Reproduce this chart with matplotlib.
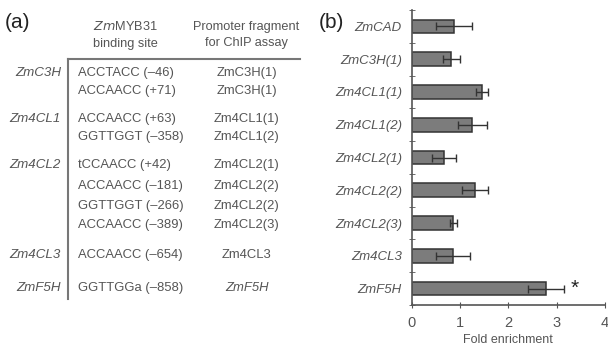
import matplotlib
matplotlib.use("Agg")
import matplotlib.pyplot as plt
from matplotlib.lines import Line2D

# ---------------- data ----------------
# panel (a) table
table_genes = ["ZmC3H", "", "Zm4CL1", "", "Zm4CL2", "", "", "", "Zm4CL3", "ZmF5H"]
table_sites = ["ACCTACC (\u201346)", "ACCAACC (+71)", "ACCAACC (+63)", "GGTTGGT (\u2013358)",
               "tCCAACC (+42)", "ACCAACC (\u2013181)", "GGTTGGT (\u2013266)", "ACCAACC (\u2013389)",
               "ACCAACC (\u2013654)", "GGTTGGa (\u2013858)"]
table_fragments = ["ZmC3H(1)", "ZmC3H(1)", "Zm4CL1(1)", "Zm4CL1(2)", "Zm4CL2(1)",
                   "Zm4CL2(2)", "Zm4CL2(2)", "Zm4CL2(3)", "Zm4CL3", "ZmF5H"]
header_site = "$\\it{Zm}$MYB31\nbinding site"
header_frag = "Promoter fragment\nfor ChIP assay"

# panel (b) bar chart
categories = ["ZmCAD", "ZmC3H(1)", "Zm4CL1(1)", "Zm4CL1(2)", "Zm4CL2(1)",
              "Zm4CL2(2)", "Zm4CL2(3)", "Zm4CL3", "ZmF5H"]
fold = [0.88, 0.82, 1.46, 1.25, 0.67, 1.31, 0.86, 0.85, 2.78]
err = [0.37, 0.17, 0.12, 0.30, 0.24, 0.26, 0.07, 0.35, 0.37]
xticks = [0, 1, 2, 3, 4]

# ---------------- layout ----------------
W, H = 608, 347
fig = plt.figure(figsize=(W / 100, H / 100), dpi=100)
plt.rcParams['font.family'] = ['Liberation Sans', 'DejaVu Sans']
txt = "#555555"

def fx(px):
    return px / W

def fy(py):
    return 1 - py / H

# panel labels
fig.text(fx(5), fy(22), "(a)", fontsize=15, color="#222222", va="center", ha="left")
fig.text(fx(319), fy(22), "(b)", fontsize=15, color="#222222", va="center", ha="left")

# table headers
fig.text(fx(125), fy(35), header_site, fontsize=9.2, color=txt, ha="center", va="center",
         linespacing=1.45)
fig.text(fx(246), fy(35), header_frag, fontsize=9.2, color=txt, ha="center", va="center",
         linespacing=1.45)

# table lines
fig.add_artist(Line2D([fx(68), fx(300)], [fy(59), fy(59)], color="#777777", lw=1.5))
fig.add_artist(Line2D([fx(68), fx(68)], [fy(59), fy(299)], color="#777777", lw=1.5))

row_y = [73, 91, 119, 137, 165, 186, 206, 225, 255, 288]
for g, s, f, y in zip(table_genes, table_sites, table_fragments, row_y):
    if g:
        fig.text(fx(61), fy(y), g, fontsize=9.6, color=txt, style="italic", ha="right", va="center")
    fig.text(fx(78), fy(y), s, fontsize=9.4, color=txt, ha="left", va="center")
    fig.text(fx(247), fy(y), f, fontsize=9.4, color=txt, ha="center", va="center",
             style="italic" if f == "ZmF5H" else "normal")

# bar chart
ax = fig.add_axes([fx(411.7), fy(305), fx(605) - fx(411.7), (305 - 10) / H])
ypos = list(range(len(categories)))
ax.barh(ypos, fold, height=0.42, color="#7c7c7c", edgecolor="#333333", linewidth=1.1,
        xerr=err, error_kw=dict(ecolor="#333333", elinewidth=1.0, capsize=3, capthick=1.0))
ax.set_ylim(len(categories) - 0.5, -0.5)
ax.set_xlim(0, 4)
ax.set_xticks(xticks)
ax.set_xticklabels([str(t) for t in xticks], fontsize=10.5, color=txt)
ax.set_yticks(ypos)
ax.set_yticklabels(categories, fontsize=9.5, color=txt, style="italic")
ax.set_yticks([i - 0.5 for i in range(len(categories) + 1)], minor=True)
ax.tick_params(axis="y", which="major", length=0, pad=7)
ax.tick_params(axis="y", which="minor", length=4, direction="inout", color="#555555")
ax.tick_params(axis="x", which="major", length=4, direction="inout", color="#555555", pad=6)
for sp in ["top", "right"]:
    ax.spines[sp].set_visible(False)
for sp in ["left", "bottom"]:
    ax.spines[sp].set_color("#555555")
    ax.spines[sp].set_linewidth(1.2)
ax.set_xlabel("Fold enrichment", fontsize=9, color=txt, labelpad=3)
ax.text(fold[-1] + err[-1] + 0.23, len(categories) - 1, "*", fontsize=15, color="#222222",
        ha="center", va="center")

fig.savefig("out.png", dpi=100)
